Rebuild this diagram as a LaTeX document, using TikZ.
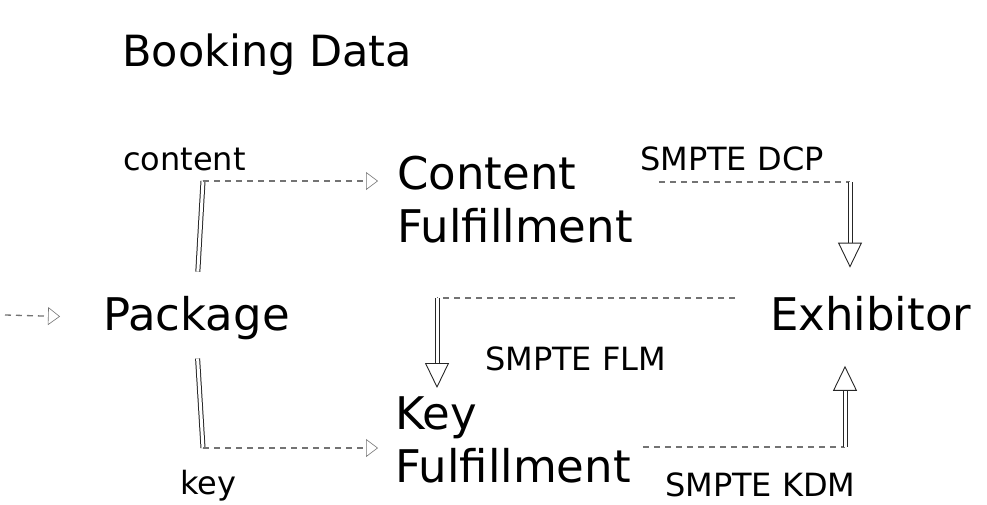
\documentclass[tikz,border=0pt]{standalone}
\usepackage{fontspec}
\setmainfont{DejaVu Sans}
\usetikzlibrary{arrows.meta}
\begin{document}
\begin{tikzpicture}[x=1pt,y=-1pt,line join=round,
  every node/.style={inner sep=0pt,anchor=base west},
  bigtxt/.style={font=\fontsize{45}{53}\selectfont,align=left},
  smalltxt/.style={font=\fontsize{32}{36}\selectfont},
  dblline/.style={draw=black!85,line width=1pt,double=white,double distance=3pt},
  dashline/.style={draw=black!55,line width=1.3pt,dash pattern=on 6pt off 5pt},
  bighead/.style={-{Triangle[open,length=25pt,width=24pt,line width=0.9pt]}},
  smallhead/.style={-{Triangle[open,length=12pt,width=18pt,line width=0.6pt]}}]
\useasboundingbox (0,0) rectangle (987,504);
% nodes
\node[bigtxt,font=\fontsize{43}{50}\selectfont] (title) at (122,66) {Booking Data};
\node[bigtxt] (pkg) at (103,330) {Package};
\node[bigtxt] (exh) at (770,330) {Exhibitor};
\node[bigtxt] (cont) at (397,242) {Content\\Fulfillment};
\node[bigtxt] (key) at (395,482) {Key\\Fulfillment};
% labels
\node[smalltxt] (lblcont) at (123,170) {content};
\node[smalltxt] (lblkey) at (180,494) {key};
\node[smalltxt] (lbldcp) at (640,170) {SMPTE DCP};
\node[smalltxt] (lblflm) at (485,370) {SMPTE FLM};
\node[smalltxt] (lblkdm) at (665,496) {SMPTE KDM};
% corners
\coordinate (src) at (5,315);
\coordinate (pkup) at (203,181);
\coordinate (pkdown) at (203,448);
\coordinate (dcpcorner) at (850,182);
\coordinate (flmcorner) at (437,298);
\coordinate (kdmcorner) at (845,447);
% package in
\draw[dashline,smallhead,shorten >=43pt] (src) -- (pkg.west);
% package -> content, key
\draw[dblline,shorten <=24pt] (pkg.north) -- (pkup);
\draw[dashline,smallhead,shorten >=19pt] (pkup) -- (cont.west |- pkup);
\draw[dblline,shorten <=19pt] (pkg.south) -- (pkdown);
\draw[dashline,smallhead,shorten >=17pt] (pkdown) -- (key.west |- pkdown);
% content -> exhibitor
\draw[dashline] ([xshift=26pt]cont.east |- dcpcorner) -- (dcpcorner);
\draw[dblline,bighead,shorten >=28pt] (dcpcorner) -- (dcpcorner |- exh.north);
% exhibitor -> key
\draw[dashline] ([xshift=-35pt]exh.west |- flmcorner) -- (flmcorner);
\draw[dblline,bighead,shorten >=8pt] (flmcorner) -- (flmcorner |- key.north);
% key -> exhibitor
\draw[dashline] ([xshift=12pt]key.east |- kdmcorner) -- (kdmcorner);
\draw[dblline,bighead,shorten >=35pt] (kdmcorner) -- (kdmcorner |- exh.south);
\end{tikzpicture}
\end{document}
